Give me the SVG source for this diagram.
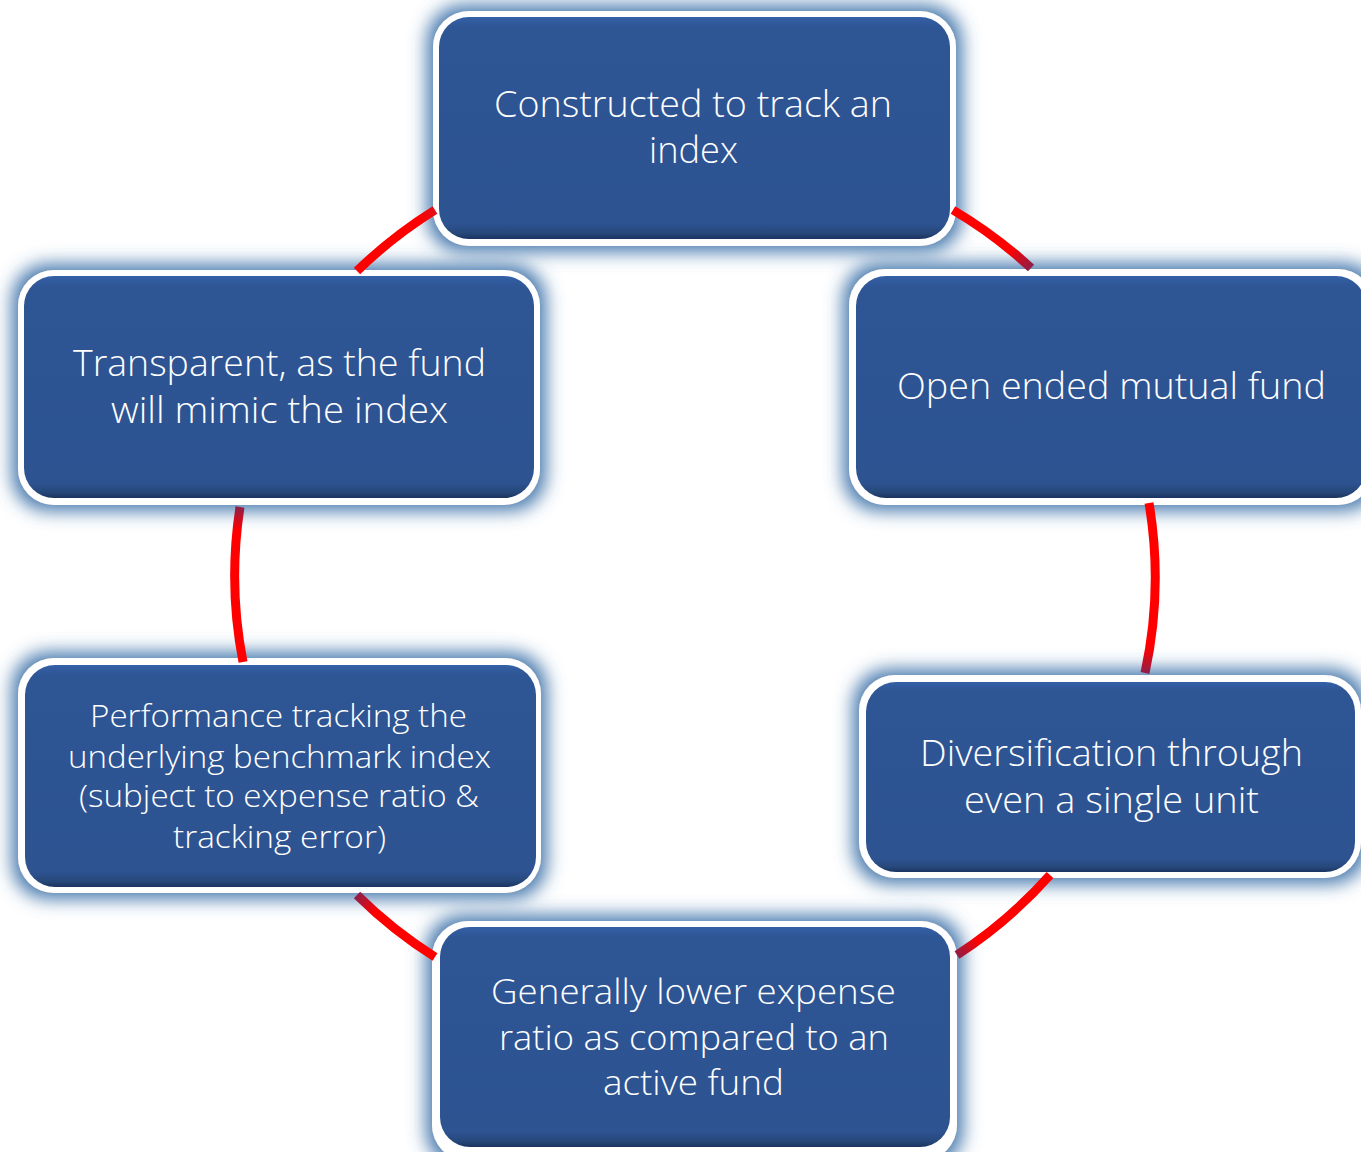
<svg xmlns="http://www.w3.org/2000/svg" width="1361" height="1152" viewBox="0 0 1361 1152">
  <defs>
    <filter id="glow" x="-15%" y="-25%" width="130%" height="150%">
      <feMorphology in="SourceAlpha" operator="dilate" radius="6" result="d"/>
      <feGaussianBlur in="d" stdDeviation="9" result="b"/>
      <feFlood flood-color="#3d72a9" flood-opacity="0.95"/>
      <feComposite in2="b" operator="in" result="g"/>
      <feMerge><feMergeNode in="g"/><feMergeNode in="SourceGraphic"/></feMerge>
    </filter>
    <linearGradient id="fillGrad" x1="0" y1="0" x2="0" y2="1">
      <stop offset="0" stop-color="#3460a6"/>
      <stop offset="0.05" stop-color="#2e5594"/>
      <stop offset="0.93" stop-color="#2d5391"/>
      <stop offset="0.975" stop-color="#264779"/>
      <stop offset="1" stop-color="#1b3360"/>
    </linearGradient>
    <linearGradient id="c1" gradientUnits="userSpaceOnUse" x1="1010" y1="250" x2="1031" y2="268">
      <stop offset="0" stop-color="#ff0000"/><stop offset="1" stop-color="#8e1f48"/>
    </linearGradient>
    <linearGradient id="c2" gradientUnits="userSpaceOnUse" x1="1148" y1="648" x2="1145" y2="673">
      <stop offset="0" stop-color="#ff0000"/><stop offset="1" stop-color="#8e1f48"/>
    </linearGradient>
    <linearGradient id="c3" gradientUnits="userSpaceOnUse" x1="978" y1="941" x2="957" y2="955">
      <stop offset="0" stop-color="#ff0000"/><stop offset="1" stop-color="#8e1f48"/>
    </linearGradient>
    <linearGradient id="c4" gradientUnits="userSpaceOnUse" x1="375" y1="912" x2="357" y2="895">
      <stop offset="0" stop-color="#ff0000"/><stop offset="1" stop-color="#8e1f48"/>
    </linearGradient>
    <linearGradient id="c5" gradientUnits="userSpaceOnUse" x1="239" y1="530" x2="240" y2="507">
      <stop offset="0" stop-color="#ff0000"/><stop offset="1" stop-color="#8e1f48"/>
    </linearGradient>
    <linearGradient id="c6" gradientUnits="userSpaceOnUse" x1="420" y1="220" x2="435" y2="210">
      <stop offset="0" stop-color="#ff0000"/><stop offset="1" stop-color="#e0101a"/>
    </linearGradient>
  </defs>
  <style>
    .outer { fill: #ffffff; filter: url(#glow); }
    .inner { fill: url(#fillGrad); }
    .lbl { fill: #ffffff; font-family: "Open Sans", "Noto Sans", "DejaVu Sans", sans-serif; font-weight: 300; text-anchor: middle; }
    .big { font-size: 37px; }
    .mid { font-size: 35px; }
    .small { font-size: 31px; }
    .conn { fill: none; stroke-width: 9; stroke-linecap: butt; }
  </style>
  <rect width="1361" height="1152" fill="#ffffff"/>

  <g id="node-top">
    <rect class="outer" x="433" y="11" width="523" height="235" rx="36"/>
    <rect class="inner" x="439" y="17" width="511" height="222" rx="30"/>
    <text class="lbl big" x="693" y="117" textLength="398" lengthAdjust="spacingAndGlyphs">Constructed to track an</text>
    <text class="lbl big" x="693.5" y="163" textLength="89" lengthAdjust="spacingAndGlyphs">index</text>
  </g>

  <g id="node-open">
    <rect class="outer" x="849" y="269" width="525" height="236" rx="36"/>
    <rect class="inner" x="856" y="276" width="510" height="222" rx="30"/>
    <text class="lbl big" x="1111.5" y="399" textLength="429" lengthAdjust="spacingAndGlyphs">Open ended mutual fund</text>
  </g>

  <g id="node-transparent">
    <rect class="outer" x="18" y="270" width="522" height="235" rx="36"/>
    <rect class="inner" x="24" y="276" width="510" height="222" rx="30"/>
    <text class="lbl big" x="279.5" y="376" textLength="413" lengthAdjust="spacingAndGlyphs">Transparent, as the fund</text>
    <text class="lbl big" x="279.5" y="423" textLength="337" lengthAdjust="spacingAndGlyphs">will mimic the index</text>
  </g>

  <g id="node-performance">
    <rect class="outer" x="18" y="658" width="523" height="235" rx="36"/>
    <rect class="inner" x="25" y="665" width="511" height="222" rx="30"/>
    <text class="lbl small" x="278.5" y="727" textLength="377" lengthAdjust="spacingAndGlyphs">Performance tracking the</text>
    <text class="lbl small" x="279.5" y="768" textLength="423" lengthAdjust="spacingAndGlyphs">underlying benchmark index</text>
    <text class="lbl small" x="279" y="807" textLength="400" lengthAdjust="spacingAndGlyphs">(subject to expense ratio &amp;</text>
    <text class="lbl small" x="279.5" y="848" textLength="213" lengthAdjust="spacingAndGlyphs">tracking error)</text>
  </g>

  <g id="node-diversification">
    <rect class="outer" x="859" y="675" width="502" height="203" rx="36"/>
    <rect class="inner" x="866" y="682" width="489" height="190" rx="30"/>
    <text class="lbl big" x="1111.5" y="766" textLength="383" lengthAdjust="spacingAndGlyphs">Diversification through</text>
    <text class="lbl big" x="1111.5" y="813" textLength="295" lengthAdjust="spacingAndGlyphs">even a single unit</text>
  </g>

  <g id="node-generally">
    <rect class="outer" x="432" y="921" width="525" height="240" rx="36"/>
    <rect class="inner" x="440" y="927" width="510" height="220" rx="30"/>
    <text class="lbl mid" x="693.5" y="1004" textLength="405" lengthAdjust="spacingAndGlyphs">Generally lower expense</text>
    <text class="lbl mid" x="694" y="1050" textLength="390" lengthAdjust="spacingAndGlyphs">ratio as compared to an</text>
    <text class="lbl mid" x="693.5" y="1095" textLength="181" lengthAdjust="spacingAndGlyphs">active fund</text>
  </g>

  <g id="connectors">
    <path class="conn" stroke="url(#c1)" d="M953,210 A460,455 0 0 1 1031,268"/>
    <path class="conn" stroke="url(#c2)" d="M1149,503 A460,455 0 0 1 1145,673"/>
    <path class="conn" stroke="url(#c3)" d="M1050,875 A460,455 0 0 1 957,955"/>
    <path class="conn" stroke="url(#c4)" d="M435,957 A460,455 0 0 1 357,895"/>
    <path class="conn" stroke="url(#c5)" d="M243,662 A460,455 0 0 1 240,507"/>
    <path class="conn" stroke="url(#c6)" d="M357,271 A460,455 0 0 1 435,210"/>
  </g>
</svg>
